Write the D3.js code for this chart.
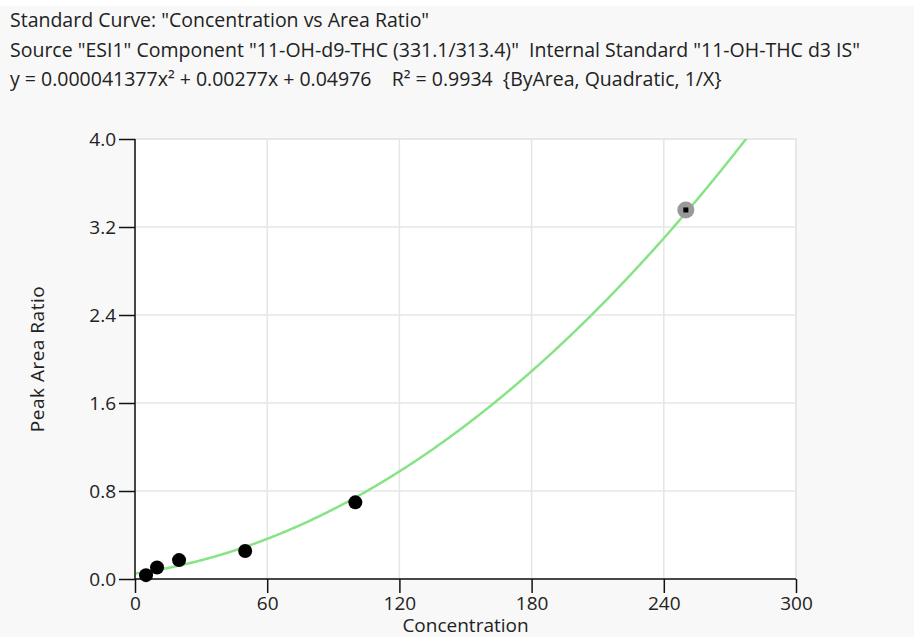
<!DOCTYPE html>
<html>
<head>
<meta charset="utf-8">
<script src="https://cdn.jsdelivr.net/npm/d3@7"></script>
<style>
html,body{margin:0;padding:0;background:#f8f8f8;}
svg{display:block;font-family:"Open Sans","Noto Sans",sans-serif;}
text{white-space:pre;}
</style>
</head>
<body>
<svg id="chart" width="914" height="637"></svg>
<script>
const titleLines = [
  'Standard Curve: "Concentration vs Area Ratio"',
  'Source "ESI1" Component "11-OH-d9-THC (331.1/313.4)"  Internal Standard "11-OH-THC d3 IS"',
  'y = 0.000041377x² + 0.00277x + 0.04976    R² = 0.9934  {ByArea, Quadratic, 1/X}'
];
const concentrations = [5, 10, 20, 50, 100];
const areaRatios = [0.035, 0.105, 0.172, 0.255, 0.697];
const excludedConc = [250];
const excludedRatio = [3.355];
const coefA = 0.000041377, coefB = 0.00277, coefC = 0.04976;
const xTicks = [0, 60, 120, 180, 240, 300];
const yTicks = [0.0, 0.8, 1.6, 2.4, 3.2, 4.0];

const svg = d3.select("#chart");
const m = {left:135, right:118, top:139, bottom:58};
const W = 914, H = 637;
const x = d3.scaleLinear().domain([0,300]).range([m.left, W-m.right]);
const y = d3.scaleLinear().domain([0,4]).range([H-m.bottom, m.top]);

svg.append("rect").attr("width",W).attr("height",H).attr("fill","#f8f8f8");
svg.append("rect").attr("width",W).attr("height",6).attr("fill","#fff");

svg.append("g").selectAll("text").data(titleLines).join("text")
  .attr("x",10).attr("y",(d,i)=>27+i*29.5).attr("font-size",19.5).attr("fill","#222")
  .text(d=>d);

svg.append("rect").attr("x",x(0)).attr("y",y(4)).attr("width",x(300)-x(0)).attr("height",y(0)-y(4))
  .attr("fill","#fff").attr("stroke","#e6e6e6").attr("stroke-width",1.5);

// grid
svg.append("g").selectAll("line").data(xTicks.slice(1)).join("line")
  .attr("x1",d=>x(d)).attr("x2",d=>x(d)).attr("y1",y(0)).attr("y2",y(4))
  .attr("stroke","#e6e6e6").attr("stroke-width",1.5);
svg.append("g").selectAll("line").data(yTicks.slice(1)).join("line")
  .attr("x1",x(0)).attr("x2",x(300)).attr("y1",d=>y(d)).attr("y2",d=>y(d))
  .attr("stroke","#e6e6e6").attr("stroke-width",1.5);

// curve
svg.append("clipPath").attr("id","clip").append("rect")
  .attr("x",x(0)).attr("y",y(4)).attr("width",x(300)-x(0)).attr("height",y(0)-y(4));
const curveData = d3.range(0, 300.5, 0.5).map(c=>[c, coefA*c*c + coefB*c + coefC]);
svg.append("path").datum(curveData).attr("clip-path","url(#clip)")
  .attr("fill","none").attr("stroke","#86e486").attr("stroke-width",2.5)
  .attr("d", d3.line().x(d=>x(d[0])).y(d=>y(d[1])));

// axes
const xAxis = svg.append("g").attr("transform",`translate(0,${y(0)})`)
  .call(d3.axisBottom(x).tickValues(xTicks).tickSize(14).tickSizeOuter(0).tickFormat(d3.format("d")));
const yAxis = svg.append("g").attr("transform",`translate(${x(0)},0)`)
  .call(d3.axisLeft(y).tickValues(yTicks).tickSize(16).tickSizeOuter(0).tickFormat(d3.format(".1f")));
[xAxis,yAxis].forEach(g=>{
  g.selectAll(".domain").attr("stroke","#111").attr("stroke-width",1.5);
  g.selectAll(".tick line").attr("stroke","#111").attr("stroke-width",1.5);
  g.selectAll("text").attr("font-size",19).attr("fill","#222").attr("font-family","Open Sans, Noto Sans, sans-serif");
});
xAxis.selectAll("text").attr("y",18);
xAxis.select(".domain").attr("d",`M${x(0)},0H${x(300)}`);
yAxis.selectAll("text").attr("x",-19);
yAxis.select(".domain").attr("d",`M0,${y(0)}V${y(4)}`);

svg.append("text").attr("x",(x(0)+x(300))/2).attr("y",632).attr("text-anchor","middle")
  .attr("font-size",19).attr("fill","#222").text("Concentration");
svg.append("text").attr("transform",`translate(44,${(y(0)+y(4))/2}) rotate(-90)`)
  .attr("text-anchor","middle").attr("font-size",19).attr("letter-spacing",0.5).attr("fill","#222").text("Peak Area Ratio");

// points
svg.append("g").selectAll("circle").data(concentrations).join("circle")
  .attr("cx",d=>x(d)).attr("cy",(d,i)=>y(areaRatios[i])).attr("r",7).attr("fill","#000");
const ex = svg.append("g");
ex.selectAll("circle").data(excludedConc).join("circle")
  .attr("cx",d=>x(d)).attr("cy",(d,i)=>y(excludedRatio[i])).attr("r",8.5).attr("fill","#999");
ex.selectAll("rect").data(excludedConc).join("rect")
  .attr("x",d=>x(d)-2.5).attr("y",(d,i)=>y(excludedRatio[i])-2.5).attr("width",5).attr("height",5).attr("fill","#000");
</script>
</body>
</html>
